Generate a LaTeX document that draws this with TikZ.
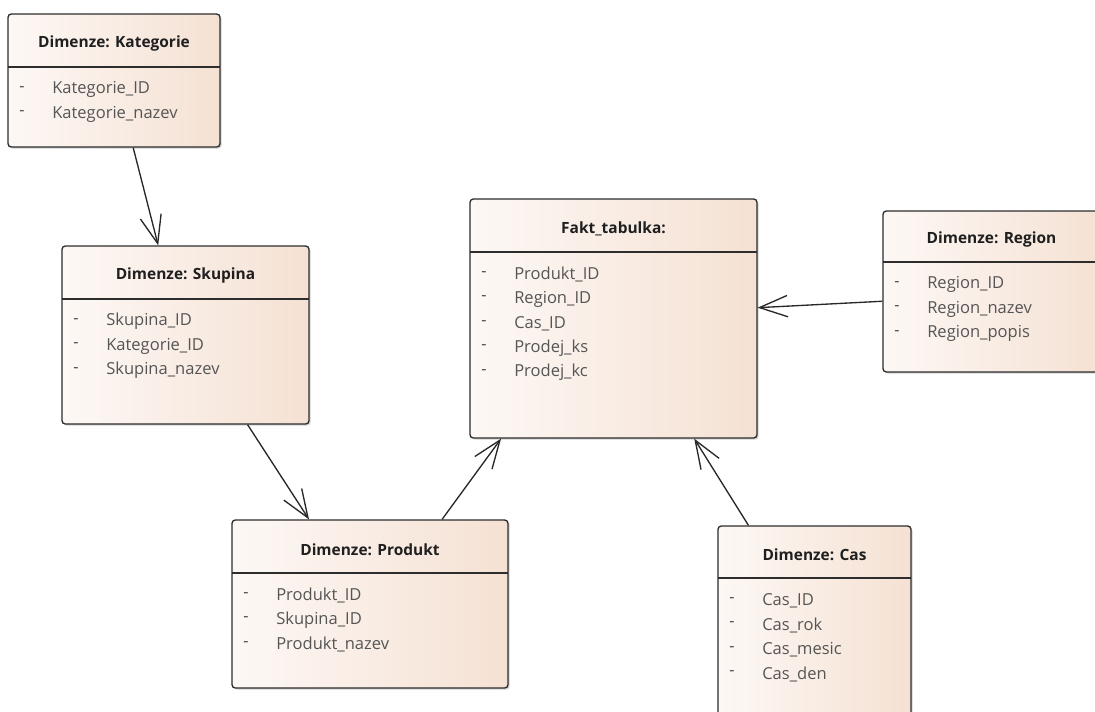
\documentclass[tikz,border=0pt]{standalone}
\usepackage{fontspec}
\setmainfont{Open Sans}
\usetikzlibrary{arrows.meta,calc,fit,shadows}

\definecolor{boxL}{RGB}{253,248,245}
\definecolor{boxR}{RGB}{245,225,211}
\definecolor{boxline}{RGB}{45,45,45}
\definecolor{itemgray}{RGB}{85,85,85}
\definecolor{relline}{RGB}{40,40,40}

\tikzset{
  tbl/.style={draw=boxline, line width=1pt, rounded corners=2.5pt,
    left color=boxL, right color=boxR, inner sep=0pt,
    drop shadow={shadow xshift=1.2pt, shadow yshift=-1.2pt, opacity=.25, fill=black!70}},
  ttl/.style={font=\fontsize{11.6}{13}\selectfont\bfseries, text=black!88, inner sep=0pt},
  sepline/.style={draw=boxline, line width=1pt},
  dsh/.style={font=\fontsize{12}{13}\selectfont, text=itemgray!80!black, inner sep=0pt},
  itm/.style={font=\fontsize{12.4}{14}\selectfont, text=itemgray, inner sep=0pt, anchor=west},
  rel/.style={draw=relline, line width=1pt,
    -{Straight Barb[length=21pt, width=16pt, line width=1pt]}},
}

% \entity{name}{x1}{y1}{x2}{y2}{separator y}{title}{attribute list}
\newcommand{\entity}[8]{%
  \node[tbl, fit={(#2,#3) (#4,#5)}] (#1) {};
  \node[ttl] (#1-t) at ({(#2+#4)/2}, {(#3+#6)/2+3}) {#7};
  \draw[sepline] (#2,#6) -- (#4,#6);
  \foreach \t [count=\i] in {#8} {
    \node[dsh] (#1-d\i) at ({#2+14}, {#6+22+24.5*(\i-1)}) {-};
    \node[itm] (#1-i\i) at ({#2+44}, {#6+22.5+24.5*(\i-1)}) {\t};
  }%
}

\begin{document}
\begin{tikzpicture}[x=0.75pt, y=-0.75pt]
  \path[use as bounding box, clip] (0,0) rectangle (1095,711);
  \fill[white] (0,0) rectangle (1095,711);

  \entity{kat}{8}{14}{220}{147}{67}{Dimenze: Kategorie}%
    {Kategorie\_ID, Kategorie\_nazev}
  \entity{sku}{62}{246}{309}{424}{299}{Dimenze: Skupina}%
    {Skupina\_ID, Kategorie\_ID, Skupina\_nazev}
  \entity{fakt}{470}{199}{757}{438}{252}{Fakt\_tabulka:}%
    {Produkt\_ID, Region\_ID, Cas\_ID, Prodej\_ks, Prodej\_kc}
  \entity{reg}{883}{211}{1100}{372}{262}{Dimenze: Region}%
    {Region\_ID, Region\_nazev, Region\_popis}
  \entity{prod}{232}{520}{508}{688}{573}{Dimenze: Produkt}%
    {Produkt\_ID, Skupina\_ID, Produkt\_nazev}
  \entity{cas}{718}{526}{911}{730}{578}{Dimenze: Cas}%
    {Cas\_ID, Cas\_rok, Cas\_mesic, Cas\_den}

  % relations between the dimension tables and the fact table
  \draw[rel] ($(kat.south west)!0.59!(kat.south east)$) --
             ($(sku.north west)!0.39!(sku.north east)$);
  \draw[rel] ($(sku.south west)!0.75!(sku.south east)$) --
             ($(prod.north west)!0.28!(prod.north east)$);
  \draw[rel] ($(prod.north west)!0.76!(prod.north east)$) --
             ($(fakt.south west)!0.11!(fakt.south east)$);
  \draw[rel] ($(cas.north west)!0.16!(cas.north east)$) --
             ($(fakt.south west)!0.78!(fakt.south east)$);
  \draw[rel] ($(reg.north west)!0.56!(reg.south west)$) --
             ($(fakt.north east)!0.455!(fakt.south east)$);
\end{tikzpicture}
\end{document}
